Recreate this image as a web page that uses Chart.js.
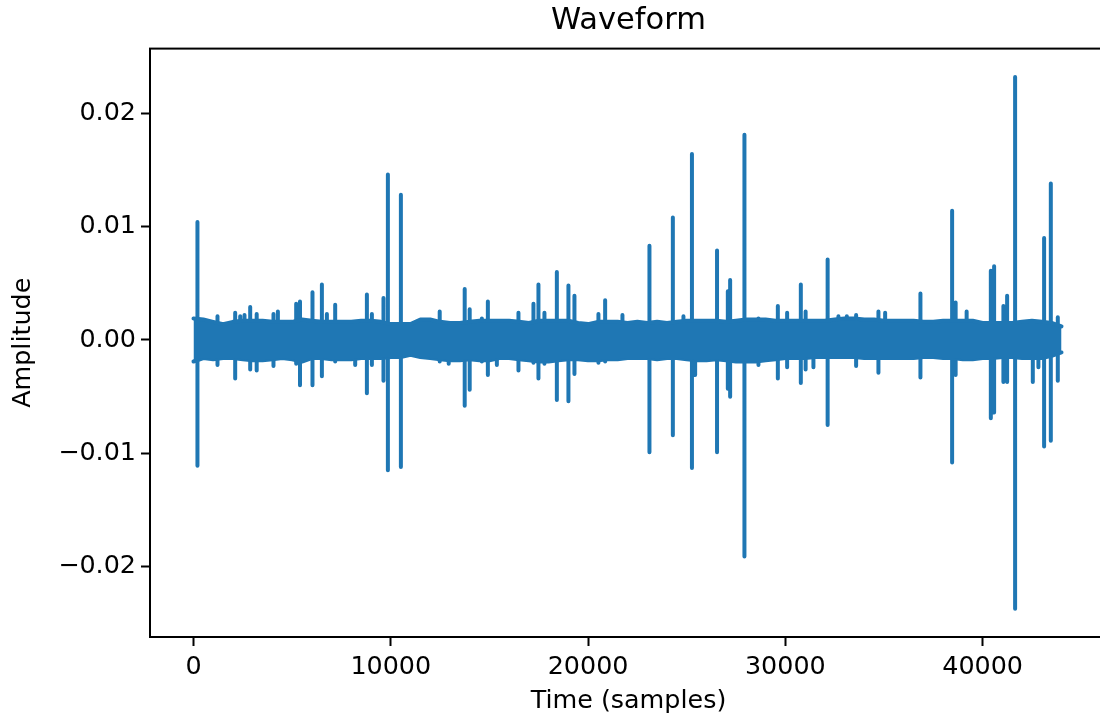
<!DOCTYPE html>
<html>
<head>
<meta charset="utf-8">
<title>Waveform</title>
<script src="https://cdn.jsdelivr.net/npm/chart.js"></script>
<style>
  html, body { margin: 0; padding: 0; background: #fff; overflow: hidden; }
  #wrap { width: 1100px; height: 723px; overflow: hidden; }
</style>
</head>
<body>
<div id="wrap"><canvas id="waveChart" width="1120" height="723"></canvas></div>
<script>
// envelope of the dense noise band, one value per 500-sample bin
const binWidth = 500;
const bandTop = [
  0.0019, 0.0018, 0.0016, 0.0014, 0.0016, 0.0017, 0.0017, 0.0017, 0.0016, 0.0016,
  0.0016, 0.0018, 0.0017, 0.0016, 0.0016, 0.0016, 0.0016, 0.0017, 0.0017, 0.0016,
  0.0014, 0.0014, 0.0014, 0.0018, 0.0018, 0.0016, 0.0015, 0.0015, 0.0016, 0.0017,
  0.0017, 0.0017, 0.0017, 0.0016, 0.0015, 0.0017, 0.0017, 0.0017, 0.0017, 0.0015,
  0.0014, 0.0016, 0.0016, 0.0016, 0.0015, 0.0016, 0.0015, 0.0016, 0.0015, 0.0016,
  0.0017, 0.0017, 0.0017, 0.0017, 0.0016, 0.0017, 0.0018, 0.0018, 0.0018, 0.0017,
  0.0017, 0.0017, 0.0017, 0.0017, 0.0017, 0.0018, 0.0019, 0.0019, 0.0018, 0.0018,
  0.0017, 0.0017, 0.0017, 0.0017, 0.0016, 0.0016, 0.0017, 0.0017, 0.0017, 0.0017,
  0.0015, 0.0015, 0.0015, 0.0015, 0.0016, 0.0017, 0.0016, 0.0015, 0.0012
];
const bandBottom = [
  -0.0019, -0.0016, -0.0017, -0.0016, -0.0016, -0.0017, -0.0018, -0.0018, -0.0017, -0.0016,
  -0.0017, -0.0019, -0.0016, -0.0016, -0.0017, -0.0017, -0.0017, -0.0016, -0.0016, -0.0016,
  -0.0015, -0.0015, -0.0013, -0.0015, -0.0016, -0.0017, -0.0018, -0.0018, -0.0017, -0.0018,
  -0.0018, -0.0016, -0.0016, -0.0017, -0.0018, -0.0019, -0.0019, -0.0018, -0.0017, -0.0017,
  -0.0018, -0.0018, -0.0017, -0.0017, -0.0016, -0.0016, -0.0016, -0.0017, -0.0016, -0.0016,
  -0.0017, -0.0018, -0.0018, -0.0017, -0.0018, -0.0019, -0.0019, -0.0019, -0.0018, -0.0017,
  -0.0016, -0.0016, -0.0016, -0.0015, -0.0015, -0.0015, -0.0015, -0.0015, -0.0016, -0.0016,
  -0.0016, -0.0016, -0.0016, -0.0016, -0.0015, -0.0015, -0.0016, -0.0016, -0.0017, -0.0017,
  -0.0016, -0.0016, -0.0015, -0.0015, -0.0016, -0.0016, -0.0016, -0.0014, -0.0011
];

// clicks and bursts that stick out of the band (sample index, max, min)
const spikeAt = [
  200, 1216, 2113, 2367, 2585, 2874, 3203, 4054, 4277, 5205,
  5398, 6031, 6508, 6761, 7182, 8196, 8789, 9042, 9630, 9853,
  10512, 12480, 12936, 13747, 14000, 14617, 14921, 15377, 16472, 17232,
  17485, 17789, 18418, 19005, 19310, 20526, 20866, 21743, 23112, 24298,
  24835, 25266, 25428, 26538, 27085, 27202, 27927, 28637, 29620, 30091,
  30785, 31028, 31424, 32144, 32691, 33117, 33588, 34719, 35059, 36848,
  38454, 38632, 39190, 40416, 40583, 41054, 41242, 41647, 42544, 42828,
  43117, 43457, 43811
];
const spikeHigh = [
  0.0104, 0.0021, 0.0024, 0.0021, 0.0022, 0.0029, 0.0023, 0.0023, 0.0025, 0.0032,
  0.0034, 0.0042, 0.0049, 0.0023, 0.0031, 0, 0.0040, 0.0023, 0.0037, 0.0146,
  0.0128, 0.0025, 0, 0.0045, 0.0027, 0.0019, 0.0034, 0, 0.0024, 0.0032,
  0.0049, 0.0024, 0.0060, 0.0048, 0.0039, 0.0023, 0.0035, 0.0022, 0.0083, 0.0108,
  0.0021, 0.0164, 0, 0.0079, 0.0043, 0.0053, 0.0181, 0.0019, 0.0030, 0.0024,
  0.0049, 0.0025, 0, 0.0071, 0.0021, 0.0021, 0.0022, 0.0025, 0.0024, 0.0041,
  0.0114, 0.0033, 0.0025, 0.0061, 0.0065, 0.0030, 0.0039, 0.0232, 0, 0,
  0.0090, 0.0138, 0.0020
];
const spikeLow = [
  -0.0111, -0.0022, -0.0034, 0, 0, -0.0026, -0.0027, -0.0023, 0, -0.0021,
  -0.0040, -0.0040, -0.0032, 0, -0.0019, -0.0022, -0.0047, -0.0022, -0.0036, -0.0115,
  -0.0112, -0.0019, -0.0021, -0.0058, -0.0044, -0.0019, -0.0031, -0.0022, -0.0027, -0.0020,
  -0.0034, -0.0021, -0.0053, -0.0054, -0.0030, -0.0020, -0.0019, 0, -0.0099, -0.0084,
  0, -0.0113, -0.0031, -0.0099, -0.0043, -0.0050, -0.0191, -0.0022, -0.0034, -0.0024,
  -0.0038, -0.0026, -0.0024, -0.0075, 0, 0, -0.0023, -0.0029, 0, -0.0033,
  -0.0108, -0.0031, 0, -0.0069, -0.0064, -0.0037, -0.0037, -0.0237, -0.0037, -0.0024,
  -0.0094, -0.0089, -0.0036
];

const xTicks = [0, 10000, 20000, 30000, 40000];
const xTickLabels = ["0", "10000", "20000", "30000", "40000"];
const yTicks = [-0.02, -0.01, 0, 0.01, 0.02];
const yTickLabels = ["\u22120.02", "\u22120.01", "0.00", "0.01", "0.02"];

const blue = "#1f77b4";
const fontFamily = "'DejaVu Sans', 'Liberation Sans', sans-serif";

const topPoints = bandTop.map((v, i) => ({ x: i * binWidth, y: v }));
const bottomPoints = bandBottom.map((v, i) => ({ x: i * binWidth, y: v }));

// each spike is a vertical stroke, separated by a gap
const spikePoints = [];
spikeAt.forEach((s, i) => {
  spikePoints.push({ x: s, y: spikeHigh[i] });
  spikePoints.push({ x: s, y: spikeLow[i] });
  spikePoints.push({ x: s, y: null });
});

// matplotlib style box around the axes
const frame = {
  id: "frame",
  afterDatasetsDraw(chart) {
    const { ctx, chartArea: a } = chart;
    ctx.save();
    ctx.strokeStyle = "#000";
    ctx.lineWidth = 2;
    ctx.strokeRect(a.left, a.top, a.right - a.left, a.bottom - a.top);
    ctx.restore();
  },
};

const lineStyle = {
  borderColor: blue,
  backgroundColor: blue,
  borderWidth: 4,
  borderJoinStyle: "round",
  borderCapStyle: "round",
  pointRadius: 0,
  tension: 0,
};

const ctx = document.getElementById("waveChart").getContext("2d");

const waveChart = new Chart(ctx, {
  type: "line",
  data: {
    datasets: [
      { ...lineStyle, label: "top", data: topPoints, fill: "+1" },
      { ...lineStyle, label: "bottom", data: bottomPoints, fill: false },
      { ...lineStyle, label: "spikes", data: spikePoints, fill: false, spanGaps: false },
    ],
  },
  options: {
    responsive: false,
    animation: false,
    devicePixelRatio: 1,
    layout: { padding: { left: 0, right: 13, top: 0, bottom: 0 } },
    scales: {
      x: {
        type: "linear",
        min: -2205,
        max: 46305,
        afterFit: (scale) => { scale.height = 86; },
        afterBuildTicks: (scale) => { scale.ticks = xTicks.map((v) => ({ value: v })); },
        grid: {
          display: true,
          drawOnChartArea: false,
          drawTicks: true,
          tickLength: 9,
          tickWidth: 2,
          tickColor: "#000",
        },
        border: { display: false },
        ticks: {
          color: "#000",
          padding: 6,
          maxRotation: 0,
          font: { family: fontFamily, size: 25.4 },
          callback: (v, i) => xTickLabels[i],
        },
        title: {
          display: true,
          text: "Time (samples)",
          color: "#000",
          font: { family: fontFamily, size: 25.4 },
          padding: { top: 0, bottom: 6 },
        },
      },
      y: {
        type: "linear",
        min: -0.0262,
        max: 0.0257,
        afterFit: (scale) => { scale.width = 150; },
        afterBuildTicks: (scale) => { scale.ticks = yTicks.map((v) => ({ value: v })); },
        grid: {
          display: true,
          drawOnChartArea: false,
          drawTicks: true,
          tickLength: 9,
          tickWidth: 2,
          tickColor: "#000",
        },
        border: { display: false },
        ticks: {
          color: "#000",
          padding: 5,
          font: { family: fontFamily, size: 25.4 },
          callback: (v, i) => yTickLabels[i],
        },
        title: {
          display: true,
          text: "Amplitude",
          color: "#000",
          font: { family: fontFamily, size: 25.4 },
          padding: { top: 8, bottom: 0 },
        },
      },
    },
    plugins: {
      legend: { display: false },
      tooltip: { enabled: false },
      title: {
        display: true,
        text: "Waveform",
        color: "#000",
        fullSize: false,
        font: { family: fontFamily, size: 30.5, weight: "normal" },
        padding: { top: 3, bottom: 9 },
      },
    },
  },
  plugins: [frame],
});
</script>
</body>
</html>
